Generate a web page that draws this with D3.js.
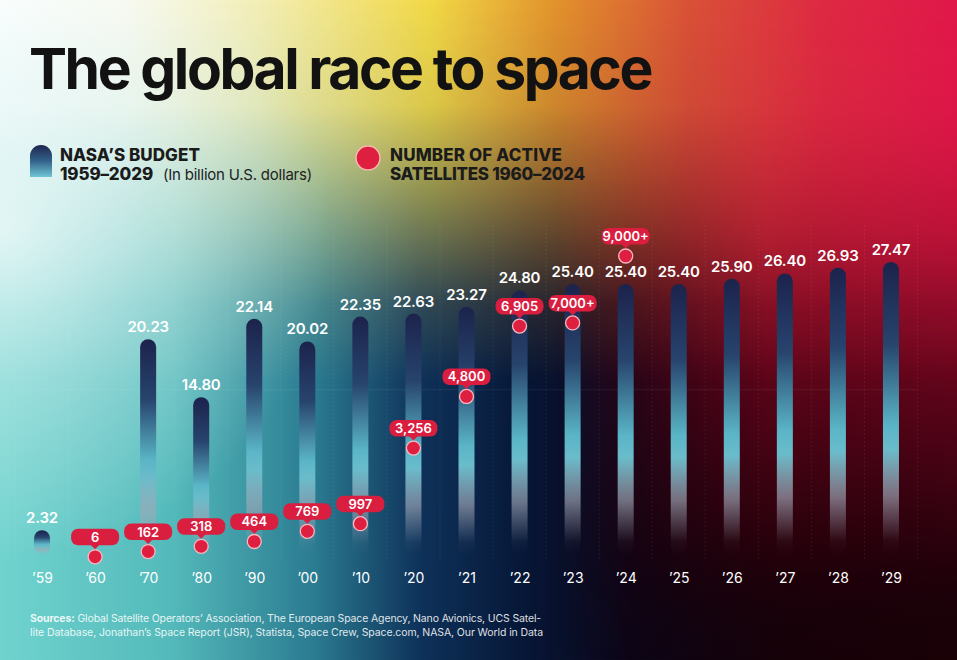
<!DOCTYPE html>
<html><head><meta charset="utf-8">
<script src="https://cdn.jsdelivr.net/npm/d3@7"></script>
<style>body{margin:0;background:#000;overflow:hidden} svg{display:block}</style>
</head><body>
<svg id="c" width="957" height="660"></svg>
<script>
const categories = ["’59","’60","’70","’80","’90","’00","’10","’20","’21","’22","’23","’24","’25","’26","’27","’28","’29"];
const budget = [2.32,null,20.23,14.80,22.14,20.02,22.35,22.63,23.27,24.80,25.40,25.40,25.40,25.90,26.40,26.93,27.47];
const budgetLabels = ["2.32",null,"20.23","14.80","22.14","20.02","22.35","22.63","23.27","24.80","25.40","25.40","25.40","25.90","26.40","26.93","27.47"];
const satellites = [null,6,162,318,464,769,997,3256,4800,6905,7000,9000,null,null,null,null,null];
const satelliteLabels = [null,"6","162","318","464","769","997","3,256","4,800","6,905","7,000+","9,000+",null,null,null,null,null];
const satGridValues = [5000];
const titleText = "The global race to space";
const sourcesLines = [
  ["Sources:", " Global Satellite Operators’ Association, The European Space Agency, Nano Avionics, UCS Satel-"],
  ["", "lite Database, Jonathan’s Space Report (JSR), Statista, Space Crew, Space.com, NASA, Our World in Data"]
];

const W = 957, H = 660;
const FONT = "Inter, 'Open Sans', sans-serif";
const svg = d3.select("#c");
const defs = svg.append("defs");

function linGrad(id, stops, x1, y1, x2, y2) {
  const g = defs.append("linearGradient").attr("id", id)
    .attr("x1", x1).attr("y1", y1).attr("x2", x2).attr("y2", y2);
  stops.forEach(s => g.append("stop").attr("offset", s[0]).attr("stop-color", s[1]).attr("stop-opacity", s[2] == null ? 1 : s[2]));
  return g;
}

// Background layers
linGrad("bgBase", [[0,"#70d3ce"],[0.18,"#53b9ba"],[0.33,"#2a7a90"],[0.44,"#0e3159"],[0.55,"#061636"],[0.66,"#0d0516"],[0.82,"#170209"],[1,"#1a0207"]], 0,0,1,0);
linGrad("bgTop", [[0,"#ffffff"],[0.13,"#fbfaf0"],[0.27,"#f3eeb6"],[0.45,"#f2d946"],[0.58,"#e3932c"],[0.72,"#d95137"],[0.86,"#dd2a42"],[1,"#e0174a"]], 0,0,1,0);
linGrad("vFade", [[0,"#fff"],[0.16,"#fff",0.9],[0.32,"#fff",0.5],[0.46,"#fff",0.15],[0.58,"#fff",0]], 0,0,0,1);
linGrad("redV", [[0,"#d9163f"],[0.35,"#a30e2c"],[0.6,"#5c0419"],[0.82,"#2a010c"],[1,"#14000a",0]], 0,0,0,1);
linGrad("hFadeR", [[0,"#fff",0],[0.58,"#fff",0],[0.8,"#fff",0.9],[1,"#fff",1]], 0,0,1,0);
const rg = defs.append("radialGradient").attr("id","glowL").attr("gradientUnits","userSpaceOnUse")
  .attr("cx",0).attr("cy",230).attr("r",330);
[[0,"#f4fbfb",0.75],[0.45,"#e4f6f6",0.4],[1,"#e4f6f6",0]].forEach(s => rg.append("stop").attr("offset",s[0]).attr("stop-color",s[1]).attr("stop-opacity",s[2]));

defs.append("mask").attr("id","mTop").attr("maskUnits","userSpaceOnUse")
  .attr("x",0).attr("y",0).attr("width",W).attr("height",H)
  .append("rect").attr("width",W).attr("height",H).attr("fill","url(#vFade)");
defs.append("mask").attr("id","mRight").attr("maskUnits","userSpaceOnUse")
  .attr("x",0).attr("y",0).attr("width",W).attr("height",H)
  .append("rect").attr("width",W).attr("height",H).attr("fill","url(#hFadeR)");

svg.append("rect").attr("width",W).attr("height",H).attr("fill","url(#bgBase)");
svg.append("rect").attr("width",W).attr("height",H).attr("fill","url(#redV)").attr("mask","url(#mRight)");
svg.append("rect").attr("width",W).attr("height",H).attr("fill","url(#bgTop)").attr("mask","url(#mTop)");
svg.append("rect").attr("width",W).attr("height",H).attr("fill","url(#glowL)");

// Bar gradient
linGrad("barG", [[0,"#1c234c"],[0.28,"#27446d"],[0.56,"#5ab5c6"],[0.64,"#6abccb"],[0.8,"#a0a8b8",0.65],[0.95,"#a0a8b8",0.05],[1,"#a0a8b8",0]], 0,0,0,1);
linGrad("legBar", [[0,"#1e2550"],[0.5,"#33628a"],[1,"#6fc6d6"]], 0,0,0,1);

// Scales
const x = d3.scalePoint().domain(categories).range([15.5, 917.5]).padding(0.5);
const yB = d3.scaleLinear().domain([0, 27.47]).range([555, 262]);
const yS = d3.scaleLinear().domain([0, 9000]).range([557, 256]);
const barW = 16;
const step = x.step();

// Grid
const grid = svg.append("g").attr("stroke","#fff").attr("stroke-opacity",0.07).attr("stroke-width",1);
categories.concat([null]).forEach((c,i) => {
  const bx = 15.5 + i*step;
  grid.append("line").attr("x1",bx).attr("x2",bx).attr("y1",225).attr("y2",560).attr("stroke-dasharray","2,2");
});
satGridValues.forEach(v => {
  grid.append("line").attr("x1",15.5).attr("x2",917.5).attr("y1",yS(v)).attr("y2",yS(v));
});

// Bars
const bdata = categories.map((c,i) => ({c, v: budget[i], l: budgetLabels[i]})).filter(d => d.v != null);
svg.append("g").selectAll("rect").data(bdata).join("rect")
  .attr("x", d => x(d.c) - barW/2).attr("width", barW)
  .attr("y", d => yB(d.v)).attr("height", d => yB(0) - yB(d.v))
  .attr("rx", barW/2).attr("fill","url(#barG)");
svg.append("g").selectAll("text").data(bdata).join("text")
  .attr("x", d => x(d.c)).attr("y", d => yB(d.v) - 7)
  .attr("text-anchor","middle").attr("fill","#fff")
  .style("font-family",FONT).style("font-weight",600).style("font-size","15px")
  .style("letter-spacing","-0.2px")
  .text(d => d.l);

// Satellites
const red = "#da1e3f";
const sdata = categories.map((c,i) => ({c, v: satellites[i], l: satelliteLabels[i]})).filter(d => d.v != null);
const sg = svg.append("g").selectAll("g").data(sdata).join("g")
  .attr("transform", d => `translate(${x(d.c)},${yS(d.v)})`);
sg.append("rect").attr("x",-24).attr("y",-28).attr("width",48).attr("height",16.5).attr("rx",7).attr("fill",red);
sg.append("path").attr("d","M-4.5,-12 L4.5,-12 L0,-7.5 Z").attr("fill",red);
sg.append("circle").attr("r",7).attr("fill","#df1f3f").attr("stroke","#f6b9c3").attr("stroke-width",1.3);
sg.append("text").attr("y",-15).attr("text-anchor","middle").attr("fill","#fff")
  .style("font-family",FONT).style("font-weight",600).style("font-size","13px")
  .text(d => d.l);

// X axis
const xa = svg.append("g").attr("transform","translate(0,573)")
  .call(d3.axisBottom(x).tickSize(0).tickPadding(0));
xa.select(".domain").remove();
xa.selectAll("text").attr("fill","#fff").style("font-family",FONT).style("font-size","14px").style("font-weight",400);

// Fit helper
function fit(sel, target) {
  const n = sel.text().length;
  const w = sel.node().getComputedTextLength();
  sel.style("letter-spacing", ((target - w) / n) + "px");
}

// Title
const t = svg.append("text").attr("x",29).attr("y",89).attr("fill","#121212")
  .style("font-family",FONT).style("font-weight",700).style("font-size","57px")
  .text(titleText);
fit(t, 622);

// Legend
svg.append("path").attr("d","M30,177 L30,156 A11,11 0 0 1 52,156 L52,177 Z").attr("fill","url(#legBar)");
const lt = (txt,xx,yy,size,weight,target,col) => {
  const e = svg.append("text").attr("x",xx).attr("y",yy).attr("fill",col||"#1b1b1b")
    .style("font-family",FONT).style("font-weight",weight).style("font-size",size+"px").text(txt);
  fit(e, target);
  return e;
};
lt("NASA’S BUDGET",60,161,17,800,140);
lt("1959–2029",60,180,17,800,93);
lt("(In billion U.S. dollars)",163,180,15,400,149,"#222");
svg.append("circle").attr("cx",368).attr("cy",158).attr("r",12).attr("fill","#df1f3f").attr("stroke","#f6b9b0").attr("stroke-width",1.5);
lt("NUMBER OF ACTIVE",390,161,17,800,172);
lt("SATELLITES 1960–2024",390,180,17,800,195);

// Sources
const targets = [511, 513];
sourcesLines.forEach((ln,i) => {
  const e = svg.append("text").attr("x",30).attr("y",622 + i*14).attr("fill","#fff").attr("fill-opacity",0.88)
    .style("font-family",FONT).style("font-size","10.5px");
  if (ln[0]) e.append("tspan").style("font-weight",700).text(ln[0]);
  e.append("tspan").style("font-weight",400).text(ln[1]);
  const n = (ln[0]+ln[1]).length;
  const w = e.node().getComputedTextLength();
  e.style("letter-spacing", ((targets[i]-w)/n)+"px");
});
</script>
</body></html>
